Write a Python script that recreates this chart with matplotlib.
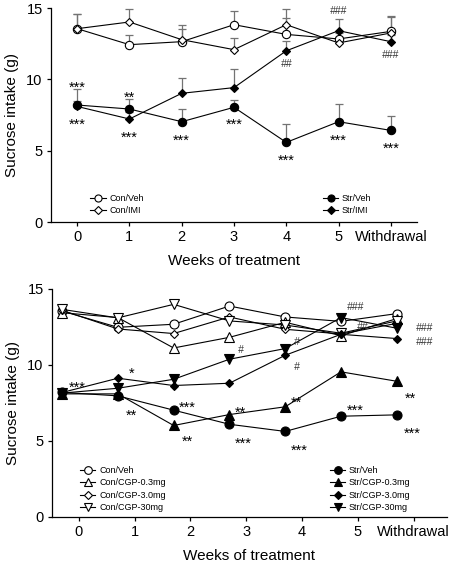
import numpy as np
import matplotlib
matplotlib.use('Agg')
import matplotlib.pyplot as plt
from matplotlib.lines import Line2D
from matplotlib.legend import Legend

plt.rcParams['font.family'] = ['Liberation Sans', 'DejaVu Sans']

weeks = [0, 1, 2, 3, 4, 5, 6]
week_labels = ['0', '1', '2', '3', '4', '5', 'Withdrawal']

# 上图：IMI
con_veh_a = [13.55, 12.43, 12.64, 13.83, 13.15, 12.83, 13.36]
con_veh_a_err = [1.05, 0.67, 1.16, 0.94, 1.15, 0.4, 1.05]
con_imi = [13.55, 14.02, 12.78, 12.08, 13.83, 12.55, 13.25]
con_imi_err = [1.05, 0.91, 0.72, 0.82, 1.1, 0.4, 1.15]
str_veh_a = [8.2, 7.92, 7.03, 8.04, 5.58, 7.03, 6.42]
str_veh_a_err = [1.1, 0.7, 0.89, 0.5, 1.3, 1.27, 1.0]
str_imi = [8.1, 7.22, 9.02, 9.42, 12.0, 13.41, 12.64]
str_imi_err = [0.4, 0.5, 1.08, 1.3, 0.7, 0.8, 0.5]

# 下图：CGP
con_veh_b = [13.55, 12.48, 12.68, 13.88, 13.16, 12.87, 13.38]
con_cgp03 = [13.44, 13.12, 11.12, 11.82, 12.81, 11.93, 13.05]
con_cgp3 = [13.6, 12.37, 12.07, 13.16, 12.35, 12.04, 12.74]
con_cgp30 = [13.66, 13.1, 13.99, 12.9, 12.63, 12.09, 12.9]
str_veh_b = [8.2, 7.97, 7.03, 6.1, 5.63, 6.63, 6.72]
str_cgp03 = [8.1, 8.1, 6.02, 6.74, 7.25, 9.55, 8.93]
str_cgp3 = [8.19, 9.13, 8.65, 8.8, 10.64, 12.02, 11.74]
str_cgp30 = [8.15, 8.47, 9.06, 10.38, 11.08, 13.12, 12.42]

# 显著性标记 (text, x, y)
marks_a = [('***', 0, 9.8), ('***', 0, 7.2), ('**', 1, 9.1), ('***', 1, 6.33),
           ('***', 2, 6.07), ('***', 3, 7.24), ('***', 4, 4.7), ('***', 5, 6.12),
           ('***', 6, 5.5), ('###', 5, 14.8), ('##', 4, 11.1), ('###', 6, 11.7)]
marks_b = [('***', -0.03, 8.91), ('*', 0.95, 9.79), ('**', 0.95, 7.05),
           ('***', 1.95, 7.6), ('**', 1.95, 5.34), ('**', 2.9, 7.27),
           ('***', 2.95, 5.19), ('#', 2.9, 10.99), ('#', 3.9, 11.54),
           ('#', 3.9, 9.9), ('**', 3.9, 7.93), ('***', 3.95, 4.75),
           ('###', 4.95, 13.84), ('##', 5.08, 12.48), ('***', 4.95, 7.38),
           ('###', 6.2, 12.41), ('###', 6.2, 11.5), ('**', 5.95, 8.19),
           ('***', 5.98, 5.85)]


def style_axes(ax, xlim):
    ax.set_xlim(*xlim)
    ax.set_ylim(0, 15)
    ax.set_xticks(weeks)
    ax.set_xticklabels(week_labels)
    ax.set_yticks([0, 5, 10, 15])
    ax.spines['top'].set_visible(False)
    ax.spines['right'].set_visible(False)
    ax.spines['left'].set_linewidth(0.9)
    ax.spines['bottom'].set_linewidth(0.9)
    ax.tick_params(direction='out', length=3, width=0.9, labelsize=10.5, pad=3)
    ax.set_xlabel('Weeks of treatment', fontsize=11, labelpad=7)
    ax.set_ylabel('Sucrose intake (g)', fontsize=11, labelpad=5)


def draw_marks(ax, marks):
    for txt, x, y in marks:
        if '*' in txt:
            ax.text(x, y - 0.4, txt, fontsize=10.5, ha='center', va='center')
        else:
            ax.text(x, y, txt, fontsize=7.5, ha='center', va='center',
                    color='0.2', style='italic')


def series(ax, x, y, marker, fill, ms, label, err=None):
    if err is not None:
        ax.errorbar(x, y, yerr=[np.zeros(len(err)), err], fmt='none',
                    ecolor='0.45', elinewidth=0.9, capsize=3, capthick=0.9, zorder=1)
    ax.plot(x, y, color='black', lw=0.8, marker=marker, ms=ms,
            mfc=fill, mec='black', mew=0.8, zorder=3, label=label)


def legend_at(ax, names, markers, fills, sizes, pos):
    handles = [Line2D([], [], color='black', lw=0.8, marker=m, mfc=f, mec='black',
                      ms=s * 0.85, mew=0.8) for m, f, s in zip(markers, fills, sizes)]
    leg = Legend(ax, handles, names, loc='upper left', bbox_to_anchor=pos,
                 frameon=False, fontsize=6.5, handlelength=1.7, handletextpad=0.4,
                 labelspacing=0.38, borderpad=0, borderaxespad=0)
    ax.add_artist(leg)


fig = plt.figure(figsize=(4.56, 5.63), dpi=100)
ax1 = fig.add_axes([51 / 456, 1 - 222 / 563, 366 / 456, 214 / 563])
ax2 = fig.add_axes([52 / 456, 1 - 517 / 563, 395 / 456, 228 / 563])

# 上图
series(ax1, weeks, con_veh_a, 'o', 'white', 6, 'Con/Veh', con_veh_a_err)
series(ax1, weeks, con_imi, 'D', 'white', 4.5, 'Con/IMI', con_imi_err)
series(ax1, weeks, str_veh_a, 'o', 'black', 6, 'Str/Veh', str_veh_a_err)
series(ax1, weeks, str_imi, 'D', 'black', 4.5, 'Str/IMI', str_imi_err)
style_axes(ax1, (-0.5, 6.5))
draw_marks(ax1, marks_a)
legend_at(ax1, ['Con/Veh', 'Con/IMI'], ['o', 'D'], ['white', 'white'], [6, 4.5], (0.107, 0.131))
legend_at(ax1, ['Str/Veh', 'Str/IMI'], ['o', 'D'], ['black', 'black'], [6, 4.5], (0.743, 0.131))

# 下图
xb = np.array(weeks) - 0.3
series(ax2, xb, con_veh_b, 'o', 'white', 6.5, 'Con/Veh')
series(ax2, xb, con_cgp03, '^', 'white', 6.5, 'Con/CGP-0.3mg')
series(ax2, xb, con_cgp3, 'D', 'white', 4.5, 'Con/CGP-3.0mg')
series(ax2, xb, con_cgp30, 'v', 'white', 6.5, 'Con/CGP-30mg')
series(ax2, xb, str_veh_b, 'o', 'black', 6.5, 'Str/Veh')
series(ax2, xb, str_cgp03, '^', 'black', 6.5, 'Str/CGP-0.3mg')
series(ax2, xb, str_cgp3, 'D', 'black', 4.5, 'Str/CGP-3.0mg')
series(ax2, xb, str_cgp30, 'v', 'black', 6.5, 'Str/CGP-30mg')
style_axes(ax2, (-0.48, 6.6))
draw_marks(ax2, marks_b)
legend_at(ax2, ['Con/Veh', 'Con/CGP-0.3mg', 'Con/CGP-3.0mg', 'Con/CGP-30mg'],
          ['o', '^', 'D', 'v'], ['white'] * 4, [6.5, 6.5, 4.5, 6.5], (0.071, 0.224))
legend_at(ax2, ['Str/Veh', 'Str/CGP-0.3mg', 'Str/CGP-3.0mg', 'Str/CGP-30mg'],
          ['o', '^', 'D', 'v'], ['black'] * 4, [6.5, 6.5, 4.5, 6.5], (0.704, 0.224))

fig.savefig('out.png', dpi=100)
